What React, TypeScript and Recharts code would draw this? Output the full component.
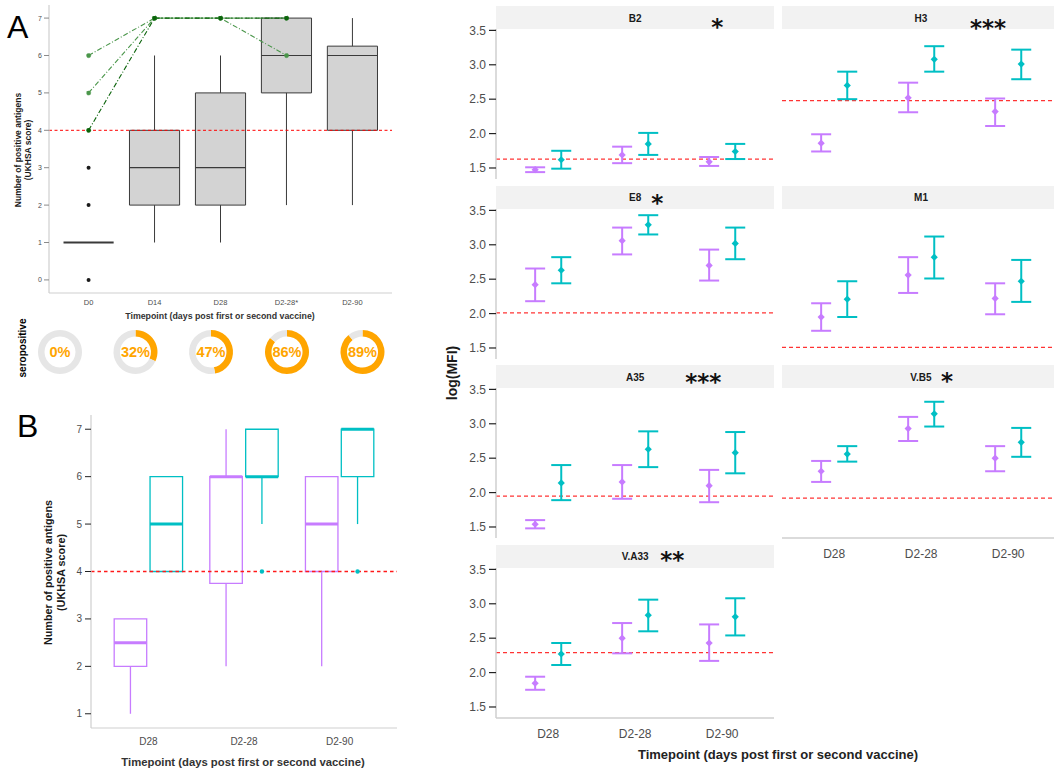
import React from 'react';
import {
  ComposedChart,
  XAxis,
  YAxis,
  ReferenceArea,
  ReferenceLine,
  Scatter,
  Line,
  ErrorBar,
  PieChart,
  Pie,
  Cell,
} from 'recharts';

const FONT = '"Liberation Sans", Arial, Helvetica, sans-serif';
const PURPLE = '#C77CFF';
const TEAL = '#00BFC4';
const RED = '#FF0000';
const ORANGE = '#FFA500';
const AXIS_GRAY = '#cfcfcf';
const TICK_TEXT = '#4d4d4d';
const TITLE = '#1a1a1a';

// ---------------- Panel A data ----------------
const aTimepoints = ['D0', 'D14', 'D28', 'D2-28*', 'D2-90'];
const aLowerWhisker = [1, 1, 1, 2, 2];
const aQ1 = [1, 2, 2, 5, 4];
const aMedian = [1, 3, 3, 6, 6];
const aQ3 = [1, 4, 5, 7, 6.25];
const aUpperWhisker = [1, 6, 6, 7, 7];
const aOutlierTimepoint = [0, 0, 0];
const aOutlierValue = [0, 2, 3];
const aPairedScores = [
  [6, 7, 7, 7],
  [5, 7, 7, 6],
  [4, 7, 7, 7],
];
const aYTicks = [0, 1, 2, 3, 4, 5, 6, 7];
const scoreThreshold = 4;

// ---------------- Seropositive donuts ----------------
const seropositivePct = [0, 32, 47, 86, 89];

// ---------------- Panel B data ----------------
const bTimepoints = ['D28', 'D2-28', 'D2-90'];
const bPurpleLower = [1, 2, 2];
const bPurpleQ1 = [2, 3.75, 4];
const bPurpleMedian = [2.5, 6, 5];
const bPurpleQ3 = [3, 6, 6];
const bPurpleUpper = [3, 7, 6];
const bTealLower = [4, 5, 5];
const bTealQ1 = [4, 6, 6];
const bTealMedian = [5, 6, 7];
const bTealQ3 = [6, 7, 7];
const bTealUpper = [6, 7, 7];
const bTealOutlierTimepoint = [1, 2];
const bTealOutlierValue = [4, 4];
const bYTicks = [1, 2, 3, 4, 5, 6, 7];

// ---------------- Facet data (log MFI) ----------------
const facetAntigens = ['B2', 'H3', 'E8', 'M1', 'A35', 'V.B5', 'V.A33'];
const facetStars = ['*', '***', '*', '', '***', '*', '**'];
const facetThresholds = [1.63, 2.48, 2.01, 1.51, 1.95, 1.92, 2.29];
const facetYTicks = [1.5, 2.0, 2.5, 3.0, 3.5];
const purpleMean = [
  [1.475, 1.69, 1.59],
  [1.86, 2.52, 2.32],
  [2.42, 3.06, 2.7],
  [1.95, 2.56, 2.22],
  [1.54, 2.155, 2.1],
  [2.31, 2.93, 2.5],
  [1.845, 2.5, 2.43],
];
const purpleLow = [
  [1.44, 1.57, 1.53],
  [1.74, 2.31, 2.11],
  [2.18, 2.86, 2.48],
  [1.75, 2.3, 1.99],
  [1.48, 1.91, 1.86],
  [2.155, 2.75, 2.31],
  [1.75, 2.28, 2.17],
];
const purpleHigh = [
  [1.51, 1.81, 1.66],
  [1.99, 2.74, 2.51],
  [2.655, 3.25, 2.93],
  [2.15, 2.82, 2.44],
  [1.6, 2.4, 2.33],
  [2.46, 3.1, 2.675],
  [1.94, 2.72, 2.7],
];
const tealMean = [
  [1.62, 1.85, 1.74],
  [2.7, 3.08, 3.01],
  [2.63, 3.29, 3.02],
  [2.21, 2.82, 2.47],
  [2.14, 2.63, 2.58],
  [2.56, 3.145, 2.73],
  [2.27, 2.835, 2.81],
];
const tealLow = [
  [1.49, 1.69, 1.63],
  [2.5, 2.9, 2.79],
  [2.44, 3.15, 2.79],
  [1.95, 2.51, 2.17],
  [1.89, 2.37, 2.28],
  [2.45, 2.96, 2.52],
  [2.11, 2.6, 2.54],
];
const tealHigh = [
  [1.75, 2.01, 1.85],
  [2.9, 3.27, 3.22],
  [2.82, 3.43, 3.25],
  [2.47, 3.12, 2.78],
  [2.4, 2.89, 2.88],
  [2.675, 3.32, 2.94],
  [2.43, 3.06, 3.08],
];

// ---------------- Layout constants ----------------
const donutCenterX = [60, 135.5, 211, 287, 362.5];
const donutCenterY = 352;
const starOffsetX = [82, 67, 22, 0, 68, 26, 37];
const starCenterY = [22.5, 23, 198, 0, 377, 376, 555];

function boxElements(
  key: string,
  center: number,
  halfWidth: number,
  lo: number,
  q1: number,
  med: number,
  q3: number,
  hi: number,
  stroke: string,
  fill: string,
  boxWidth: number,
  medianWidth: number,
) {
  const els: any[] = [];
  if (lo < q1) {
    els.push(
      <ReferenceLine
        key={key + 'wl'}
        segment={[
          { x: center, y: lo },
          { x: center, y: q1 },
        ]}
        stroke={stroke}
        strokeWidth={boxWidth}
        ifOverflow="visible"
      />,
    );
  }
  if (hi > q3) {
    els.push(
      <ReferenceLine
        key={key + 'wh'}
        segment={[
          { x: center, y: q3 },
          { x: center, y: hi },
        ]}
        stroke={stroke}
        strokeWidth={boxWidth}
        ifOverflow="visible"
      />,
    );
  }
  if (q3 > q1) {
    els.push(
      <ReferenceArea
        key={key + 'box'}
        x1={center - halfWidth}
        x2={center + halfWidth}
        y1={q1}
        y2={q3}
        fill={fill}
        fillOpacity={fill === 'none' ? 0 : 1}
        stroke={stroke}
        strokeWidth={boxWidth}
        ifOverflow="visible"
      />,
    );
  }
  els.push(
    <ReferenceLine
      key={key + 'med'}
      segment={[
        { x: center - halfWidth, y: med },
        { x: center + halfWidth, y: med },
      ]}
      stroke={stroke}
      strokeWidth={medianWidth}
      ifOverflow="visible"
    />,
  );
  return els;
}

const dotShape = (r: number, color: string) => (props: any) => (
  <circle cx={props.cx} cy={props.cy} r={r} fill={color} />
);

const diamondShape = (color: string) => (props: any) => {
  const { cx, cy } = props;
  const s = 3.6;
  return (
    <polygon
      points={`${cx},${cy - s} ${cx + s},${cy} ${cx},${cy + s} ${cx - s},${cy}`}
      fill={color}
    />
  );
};

function PanelA() {
  const outliers = aOutlierTimepoint.map((t, i) => ({ x: t + 1, y: aOutlierValue[i] }));
  const greens = ['#4a964a', '#4a964a', '#0b640b'];
  return (
    <div style={{ position: 'absolute', left: 0, top: 0 }}>
      <ComposedChart width={400} height={313} margin={{ top: 5, right: 8, bottom: 0, left: 0 }}>
        <XAxis
          type="number"
          dataKey="x"
          domain={[0.4, 5.6]}
          ticks={[1, 2, 3, 4, 5]}
          interval={0}
          tickFormatter={(v: number) => aTimepoints[v - 1]}
          allowDataOverflow
          height={20}
          axisLine={{ stroke: AXIS_GRAY, strokeWidth: 1.2 }}
          tickLine={false}
          tickSize={5}
          tickMargin={2}
          tick={{ fill: TICK_TEXT, fontSize: 7.5, fontFamily: FONT }}
        />
        <YAxis
          type="number"
          dataKey="y"
          domain={[-0.35, 7.35]}
          ticks={aYTicks}
          interval={0}
          allowDataOverflow
          width={49}
          axisLine={{ stroke: AXIS_GRAY, strokeWidth: 1.2 }}
          tickLine={{ stroke: '#8a8a8a' }}
          tickSize={5}
          tickMargin={2}
          tick={{ fill: TICK_TEXT, fontSize: 7, fontFamily: FONT }}
        />
        {aTimepoints.flatMap((t, i) =>
          boxElements(
            'a' + i,
            i + 1,
            0.38,
            aLowerWhisker[i],
            aQ1[i],
            aMedian[i],
            aQ3[i],
            aUpperWhisker[i],
            '#3a3a3a',
            '#d3d3d3',
            1,
            i === 0 ? 1.8 : 1.2,
          ),
        )}
        <ReferenceLine y={scoreThreshold} stroke={RED} strokeWidth={1} strokeDasharray="3 2.5" />
        <Scatter data={outliers} shape={dotShape(2, '#1a1a1a')} isAnimationActive={false} />
        {aPairedScores.map((scores, k) => (
          <Line
            key={'p' + k}
            data={scores.map((v, i) => ({ x: i + 1, y: v }))}
            dataKey="y"
            type="linear"
            stroke={greens[k]}
            strokeWidth={1.1}
            strokeDasharray="5 2 1 2"
            dot={{ r: 2.2, fill: greens[k], stroke: greens[k], strokeWidth: 0.5 }}
            isAnimationActive={false}
          />
        ))}
      </ComposedChart>
    </div>
  );
}

function Donuts() {
  return (
    <div style={{ position: 'absolute', left: 0, top: 320 }}>
      <PieChart width={400} height={64} margin={{ top: 0, right: 0, bottom: 0, left: 0 }}>
        {seropositivePct.map((p, i) => (
          <Pie
            key={'d' + i}
            data={[
              { name: 'seropositive', value: p },
              { name: 'seronegative', value: 100 - p },
            ]}
            dataKey="value"
            cx={donutCenterX[i]}
            cy={donutCenterY - 320}
            innerRadius={15.5}
            outerRadius={22}
            startAngle={90}
            endAngle={-270}
            stroke="none"
            isAnimationActive={false}
          >
            <Cell fill={ORANGE} />
            <Cell fill="#E6E6E6" />
          </Pie>
        ))}
      </PieChart>
    </div>
  );
}

function PanelB() {
  const off = 0.1875;
  const hw = 0.17;
  const outliers = bTealOutlierTimepoint.map((t, i) => ({ x: t + 1 + off, y: bTealOutlierValue[i] }));
  return (
    <div style={{ position: 'absolute', left: 0, top: 405 }}>
      <ComposedChart width={405} height={348} margin={{ top: 10, right: 8, bottom: 0, left: 0 }}>
        <XAxis
          type="number"
          dataKey="x"
          domain={[0.4, 3.6]}
          ticks={[1, 2, 3]}
          interval={0}
          tickFormatter={(v: number) => bTimepoints[v - 1]}
          allowDataOverflow
          height={25}
          axisLine={{ stroke: AXIS_GRAY, strokeWidth: 1.2 }}
          tickLine={false}
          tickSize={7}
          tickMargin={3}
          tick={{ fill: TICK_TEXT, fontSize: 10, fontFamily: FONT }}
        />
        <YAxis
          type="number"
          dataKey="y"
          domain={[0.7, 7.3]}
          ticks={bYTicks}
          interval={0}
          allowDataOverflow
          width={91}
          axisLine={{ stroke: AXIS_GRAY, strokeWidth: 1.2 }}
          tickLine={{ stroke: '#222', strokeWidth: 1 }}
          tickSize={6}
          tickMargin={3}
          tick={{ fill: TICK_TEXT, fontSize: 10, fontFamily: FONT }}
        />
        <ReferenceLine y={scoreThreshold} stroke="#ff1a1a" strokeWidth={1.3} strokeDasharray="3.5 3" />
        {bTimepoints.flatMap((t, i) =>
          boxElements(
            'bp' + i,
            i + 1 - off,
            hw,
            bPurpleLower[i],
            bPurpleQ1[i],
            bPurpleMedian[i],
            bPurpleQ3[i],
            bPurpleUpper[i],
            PURPLE,
            'none',
            1.3,
            3,
          ),
        )}
        {bTimepoints.flatMap((t, i) =>
          boxElements(
            'bt' + i,
            i + 1 + off,
            hw,
            bTealLower[i],
            bTealQ1[i],
            bTealMedian[i],
            bTealQ3[i],
            bTealUpper[i],
            TEAL,
            'none',
            1.3,
            3,
          ),
        )}
        <Scatter data={outliers} shape={dotShape(2.2, TEAL)} isAnimationActive={false} />
      </ComposedChart>
    </div>
  );
}

function Facet({ idx }: { idx: number }) {
  const col = idx % 2;
  const row = Math.floor(idx / 2);
  const stripTop = 6 + row * 179.5;
  const panelTop = stripTop + 23;
  const panelLeft = col === 0 ? 496 : 781.8;
  const panelW = 278.4;
  const isBottom = idx >= 5;
  const dodge = 0.15;
  const pad = 8;
  const purple = [0, 1, 2].map((i) => ({
    x: i + 1 - dodge,
    y: purpleMean[idx][i],
    err: [purpleMean[idx][i] - purpleLow[idx][i], purpleHigh[idx][i] - purpleMean[idx][i]],
  }));
  const teal = [0, 1, 2].map((i) => ({
    x: i + 1 + dodge,
    y: tealMean[idx][i],
    err: [tealMean[idx][i] - tealLow[idx][i], tealHigh[idx][i] - tealMean[idx][i]],
  }));
  const chartLeft = col === 0 ? 440 : panelLeft;
  const chartW = (col === 0 ? 56 : 0) + panelW;
  return (
    <>
      <div
        style={{
          position: 'absolute',
          left: panelLeft,
          top: stripTop,
          width: panelW,
          height: 23,
          background: '#f2f2f2',
        }}
      />
      <div style={{ position: 'absolute', left: chartLeft, top: panelTop - pad }}>
        <ComposedChart
          width={chartW}
          height={150 + pad + (isBottom ? 30 : 0)}
          margin={{ top: pad, right: 0, bottom: 0, left: 0 }}
        >
          <XAxis
            type="number"
            dataKey="x"
            domain={[0.4, 3.6]}
            ticks={[1, 2, 3]}
            interval={0}
            tickFormatter={(v: number) => bTimepoints[v - 1]}
            allowDataOverflow
            hide={!isBottom}
            height={30}
            axisLine={{ stroke: AXIS_GRAY, strokeWidth: 1.5 }}
            tickLine={false}
            tickSize={8}
            tickMargin={3}
            tick={{ fill: TICK_TEXT, fontSize: 12, fontFamily: FONT }}
          />
          <YAxis
            type="number"
            dataKey="y"
            domain={[1.34, 3.52]}
            ticks={facetYTicks}
            interval={0}
            allowDataOverflow
            hide={col !== 0}
            width={56}
            tickFormatter={(v: number) => v.toFixed(1)}
            axisLine={{ stroke: AXIS_GRAY, strokeWidth: 1.5 }}
            tickLine={{ stroke: '#222', strokeWidth: 1.2 }}
            tickSize={7}
            tickMargin={3}
            tick={{ fill: TICK_TEXT, fontSize: 12, fontFamily: FONT }}
          />
          <ReferenceLine
            y={facetThresholds[idx]}
            stroke={RED}
            strokeOpacity={0.8}
            strokeWidth={1.2}
            strokeDasharray="4 3"
          />
          <Scatter data={purple} shape={diamondShape(PURPLE)} isAnimationActive={false}>
            <ErrorBar dataKey="err" direction="y" width={10} stroke={PURPLE} strokeWidth={2} />
          </Scatter>
          <Scatter data={teal} shape={diamondShape(TEAL)} isAnimationActive={false}>
            <ErrorBar dataKey="err" direction="y" width={10} stroke={TEAL} strokeWidth={2} />
          </Scatter>
        </ComposedChart>
      </div>
    </>
  );
}

function Overlay() {
  const bold = { fontFamily: FONT, fontWeight: 700 as const };
  return (
    <svg
      width={1054}
      height={771}
      style={{ position: 'absolute', left: 0, top: 0, pointerEvents: 'none' }}
    >
      <text x={7} y={38} fontSize={32} fontFamily={FONT} fill="#000">
        A
      </text>
      <text x={17} y={437} fontSize={32} fontFamily={FONT} fill="#000">
        B
      </text>
      {/* Panel A titles */}
      <g transform="translate(18.3,150) rotate(-90)">
        <text textAnchor="middle" dominantBaseline="central" fontSize={8.5} fill={TITLE} {...bold}>
          Number of positive antigens
        </text>
      </g>
      <g transform="translate(27.5,150) rotate(-90)">
        <text textAnchor="middle" dominantBaseline="central" fontSize={8.5} fill={TITLE} {...bold}>
          (UKHSA score)
        </text>
      </g>
      <text x={220} y={316} textAnchor="middle" dominantBaseline="central" fontSize={8.8} fill="#333" {...bold}>
        Timepoint (days post first or second vaccine)
      </text>
      <g transform="translate(22.5,348) rotate(-90)">
        <text textAnchor="middle" dominantBaseline="central" fontSize={10} fill="#000" {...bold}>
          seropositive
        </text>
      </g>
      {seropositivePct.map((p, i) => (
        <text
          key={'pt' + i}
          x={donutCenterX[i]}
          y={donutCenterY}
          textAnchor="middle"
          dominantBaseline="central"
          fontSize={14.5}
          fill={ORANGE}
          {...bold}
        >
          {p + '%'}
        </text>
      ))}
      {/* Panel B titles */}
      <g transform="translate(47.7,572.5) rotate(-90)">
        <text textAnchor="middle" dominantBaseline="central" fontSize={10.8} fill={TITLE} {...bold}>
          Number of positive antigens
        </text>
      </g>
      <g transform="translate(60.5,572.5) rotate(-90)">
        <text textAnchor="middle" dominantBaseline="central" fontSize={10.8} fill={TITLE} {...bold}>
          (UKHSA score)
        </text>
      </g>
      <text x={243} y={761.5} textAnchor="middle" dominantBaseline="central" fontSize={11.3} fill="#333" {...bold}>
        Timepoint (days post first or second vaccine)
      </text>
      {/* Facet titles */}
      <g transform="translate(452,373) rotate(-90)">
        <text textAnchor="middle" dominantBaseline="central" fontSize={14} fill={TITLE} {...bold}>
          log(MFI)
        </text>
      </g>
      <text x={778} y={754} textAnchor="middle" dominantBaseline="central" fontSize={13} fill="#222" {...bold}>
        Timepoint (days post first or second vaccine)
      </text>
      {facetAntigens.map((name, idx) => {
        const col = idx % 2;
        const row = Math.floor(idx / 2);
        const stripTop = 6 + row * 179.5;
        const centerX = (col === 0 ? 496 : 781.8) + 278.4 / 2;
        return (
          <g key={'s' + idx}>
            <text
              x={centerX}
              y={stripTop + 12}
              textAnchor="middle"
              dominantBaseline="central"
              fontSize={10}
              fill={TITLE}
              {...bold}
            >
              {name}
            </text>
            {facetStars[idx] ? (
              <text
                x={centerX + starOffsetX[idx]}
                y={starCenterY[idx] + 12.5}
                textAnchor="middle"
                fontSize={23}
                fontWeight={700}
                fontFamily='"DejaVu Sans", sans-serif'
                fill="#111"
              >
                {facetStars[idx]}
              </text>
            ) : null}
          </g>
        );
      })}
    </svg>
  );
}

export default function App() {
  return (
    <div
      style={{
        position: 'fixed',
        left: 0,
        top: 0,
        width: 1054,
        height: 771,
        overflow: 'hidden',
        background: '#fff',
        fontFamily: FONT,
      }}
    >
      <PanelA />
      <Donuts />
      <PanelB />
      {facetAntigens.map((n, i) => (
        <Facet key={n} idx={i} />
      ))}
      <Overlay />
    </div>
  );
}
